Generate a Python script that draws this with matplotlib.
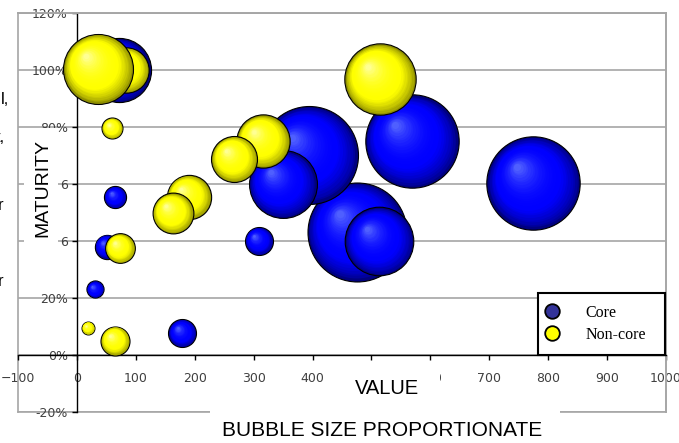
import numpy as np
import matplotlib
matplotlib.use('Agg')
import matplotlib.pyplot as plt
from matplotlib.lines import Line2D
from matplotlib.patches import Rectangle
from matplotlib.transforms import ScaledTranslation
from matplotlib.colors import to_rgb

# Core series: value, maturity, bubble size
core_value = [71, 65, 51, 31, 179, 309, 475, 513, 394, 349, 568, 775]
core_maturity = [1.00, 0.554, 0.38, 0.23, 0.077, 0.40, 0.433, 0.40, 0.702, 0.60, 0.75, 0.603]
core_size = [42, 5, 6, 3, 8, 8, 100, 48, 98, 47, 89, 89]

# Non-core series
noncore_value = [84, 36, 60, 73, 19, 65, 190, 163, 316, 267, 515]
noncore_maturity = [1.00, 1.005, 0.796, 0.375, 0.095, 0.05, 0.554, 0.498, 0.75, 0.688, 0.968]
noncore_size = [21, 50, 4.5, 9, 1.7, 8.6, 20, 17, 29, 21.6, 52]

x_ticks = [-100, 0, 100, 200, 300, 400, 500, 600, 700, 800, 900, 1000]
y_ticks = [-0.2, 0, 0.2, 0.4, 0.6, 0.8, 1.0, 1.2]
y_tick_labels = ['-20%', '0%', '20%', '6', '6', '80%', '100%', '120%']

W, H = 679, 443
fig = plt.figure(figsize=(W / 100, H / 100), dpi=100)
fig.patch.set_facecolor('white')
ax = fig.add_axes([18 / W, 1 - 412 / H, 648 / W, 399 / H])
ax.set_xlim(-100, 1000)
ax.set_ylim(-0.2, 1.2)

GRID = '#a6a6a6'
ax.set_yticks(y_ticks)
ax.set_yticklabels(y_tick_labels)
ax.set_xticks(x_ticks)
ax.yaxis.grid(True, color=GRID, linewidth=1.2, zorder=0)
ax.set_axisbelow(True)

# axes cross at the origin, outer frame in grey
ax.spines['left'].set_position(('data', 0))
ax.spines['bottom'].set_position(('data', 0))
for s in ['left', 'bottom']:
    ax.spines[s].set_color('black')
    ax.spines[s].set_linewidth(1.0)
for s in ['top', 'right']:
    ax.spines[s].set_color(GRID)
    ax.spines[s].set_linewidth(1.4)
ax.axvline(-100, color=GRID, linewidth=1.2, clip_on=False, zorder=0)
ax.axhline(-0.2, color=GRID, linewidth=1.2, clip_on=False, zorder=0)

ax.tick_params(axis='x', direction='out', length=3.5, width=1, color='black',
               pad=9, labelsize=9, labelcolor='#404040')
ax.tick_params(axis='y', direction='out', length=3.5, width=1, color='black',
               pad=3, labelsize=9, labelcolor='#404040')

PT2 = 50.8  # scatter area (pt^2) per unit of bubble size


def mix(a, b, t):
    a, b = np.array(to_rgb(a)), np.array(to_rgb(b))
    return tuple(a + (b - a) * t)


def draw_bubbles(xs, ys, sizes, dark, base, light, z0):
    n = 26
    for i, (x, y, s) in enumerate(zip(xs, ys, sizes)):
        z = z0 + i
        d = np.sqrt(s * PT2)  # diameter in points
        ax.scatter([x], [y], s=d ** 2, color=[dark], edgecolors='black',
                   linewidths=0.8, zorder=z)
        for k in range(1, n):
            t = k / n
            f = 1 - 0.96 * t
            off = (1 - f) * d / 2 * 0.5 / 72
            tr = ax.transData + ScaledTranslation(-off * 0.75, off * 0.75,
                                                  fig.dpi_scale_trans)
            if t < 0.3:
                c = mix(dark, base, (t / 0.3) ** 0.7)
            else:
                c = mix(base, light, ((t - 0.3) / 0.7) ** 2.2)
            ax.scatter([x], [y], s=(d * f * 0.985) ** 2, color=[c],
                       linewidths=0, transform=tr, zorder=z)


draw_bubbles(core_value, core_maturity, core_size,
             '#000080', '#0000ff', '#5a6cff', 10)
draw_bubbles(noncore_value, noncore_maturity, noncore_size,
             '#8f8f00', '#ffff00', '#ffffa8', 40)

handles = [
    Line2D([], [], marker='o', ls='', markersize=10.5, markerfacecolor='#333399',
           markeredgecolor='black', markeredgewidth=1.3, label='Core'),
    Line2D([], [], marker='o', ls='', markersize=10.5, markerfacecolor='#ffff00',
           markeredgecolor='black', markeredgewidth=1.3, label='Non-core'),
]
leg = ax.legend(handles=handles, loc='upper left',
                bbox_to_anchor=(0.802, 0.298, 0.196, 0.0), mode='expand',
                borderaxespad=0, fancybox=False, framealpha=1,
                prop={'family': 'Liberation Serif', 'size': 11.5},
                handlelength=0.25, handletextpad=2.0, labelspacing=0.35,
                borderpad=0.75)
leg.get_frame().set_edgecolor('black')
leg.get_frame().set_linewidth(1.5)
leg.set_zorder(100)


def px_rect(x0, y0, x1, y1):
    fig.patches.append(Rectangle((x0 / W, 1 - y1 / H), (x1 - x0) / W,
                                 (y1 - y0) / H, transform=fig.transFigure,
                                 facecolor='white', edgecolor='none', zorder=1))


# white label boxes over the plot frame
px_rect(24, 128, 58, 250)
px_rect(340, 363, 440, 402)
px_rect(210, 404, 560, 443)

fig.text(43 / W, 1 - 188 / H, 'MATURITY', rotation=90, ha='center', va='center',
         family='Liberation Sans', fontsize=14, zorder=3)
fig.text(387 / W, 1 - 389 / H, 'VALUE', ha='center', va='center',
         family='Liberation Sans', fontsize=14.5, zorder=3)
fig.text(382 / W, 1 - 431 / H, 'BUBBLE SIZE PROPORTIONATE', ha='center',
         va='center', family='Liberation Sans', fontsize=15, zorder=3)

# fragments of neighbouring text at the left edge
for txt, xp, yp in [('l,', 1, 100), ('t,', -4, 138), ('r', -2, 205), ('r', -2, 282)]:
    fig.text(xp / W, 1 - yp / H, txt, ha='left', va='center',
             family='Liberation Sans', fontsize=12, zorder=3)

fig.savefig('out.png', dpi=100)
